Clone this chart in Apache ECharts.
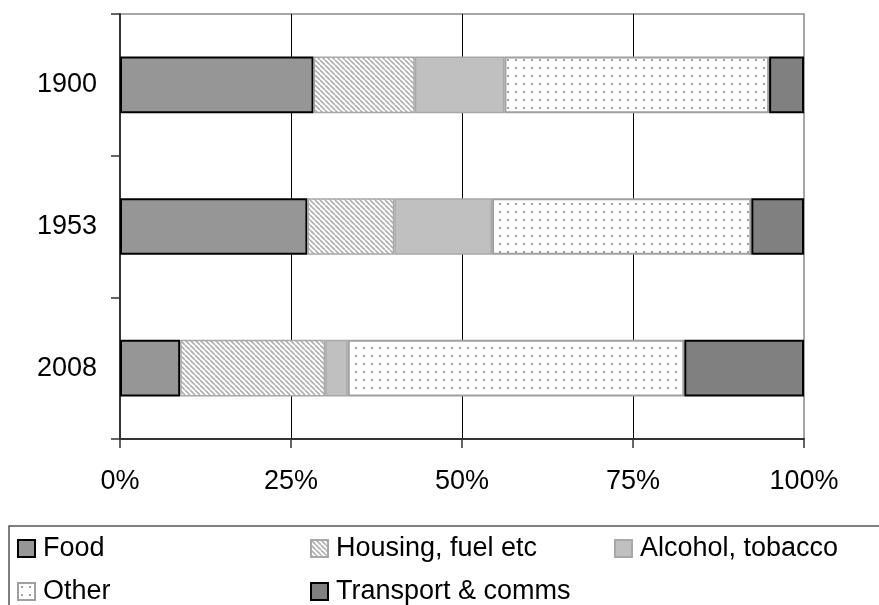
<!DOCTYPE html>
<html>
<head>
<meta charset="utf-8">
<script src="https://cdn.jsdelivr.net/npm/echarts@6/dist/echarts.min.js"></script>
<style>
  html, body { margin: 0; padding: 0; background: #fff; }
  #chart { width: 879px; height: 605px; }
</style>
</head>
<body>
<div id="chart"></div>
<script>
// Household spending shares (% of total), by year
const years = ['1900', '1953', '2008'];
const food = [28.3, 27.4, 8.8];
const housing = [14.8, 12.7, 21.2];
const alcohol = [13.1, 14.3, 3.3];
const other = [38.7, 37.9, 49.2];
const transport = [5.1, 7.7, 17.5];
const xTicks = [0, 25, 50, 75, 100];

const FONT = '"Liberation Sans", Arial, sans-serif';

// Diagonal hatch tile for housing
function hatchPattern() {
  const c = document.createElement('canvas');
  c.width = 5; c.height = 5;
  const ctx = c.getContext('2d');
  ctx.fillStyle = '#ffffff';
  ctx.fillRect(0, 0, 5, 5);
  ctx.strokeStyle = '#b0b0b0';
  ctx.lineWidth = 1.6;
  for (const k of [-5, 0, 5]) {
    ctx.beginPath();
    ctx.moveTo(k, 0);
    ctx.lineTo(k + 5, 5);
    ctx.stroke();
  }
  return c;
}

// Sparse dot tile for "other"
function dotPattern() {
  const c = document.createElement('canvas');
  c.width = 8; c.height = 8;
  const ctx = c.getContext('2d');
  ctx.fillStyle = '#ffffff';
  ctx.fillRect(0, 0, 8, 8);
  ctx.fillStyle = '#a0a0a0';
  ctx.fillRect(3, 3, 2, 2);
  return c;
}

const seriesDefs = [
  { name: 'Food', data: food, style: { color: '#969696', borderColor: '#000', borderWidth: 2 } },
  { name: 'Housing, fuel etc', data: housing, style: { color: { image: hatchPattern(), repeat: 'repeat' }, borderColor: '#a8a8a8', borderWidth: 1.5 } },
  { name: 'Alcohol, tobacco', data: alcohol, style: { color: '#c0c0c0', borderColor: '#a8a8a8', borderWidth: 1.5 } },
  { name: 'Other', data: other, style: { color: { image: dotPattern(), repeat: 'repeat' }, borderColor: '#a0a0a0', borderWidth: 2 } },
  { name: 'Transport & comms', data: transport, style: { color: '#808080', borderColor: '#000', borderWidth: 2 } }
];

// Legend slots: [left, top]
const legendPos = [[17, 535], [310, 535], [614, 535], [17, 578], [310, 578]];

const chart = echarts.init(document.getElementById('chart'), null, { renderer: 'canvas' });

chart.setOption({
  backgroundColor: '#fff',
  animation: false,
  grid: {
    left: 120, right: 75, top: 14, bottom: 166,
    show: true, borderColor: '#8a8a8a', borderWidth: 1.5,
    containLabel: false
  },
  xAxis: {
    type: 'value',
    min: xTicks[0], max: xTicks[xTicks.length - 1], interval: 25,
    axisLine: { show: true, lineStyle: { color: '#333', width: 2 } },
    axisTick: { show: true, length: 9, lineStyle: { color: '#333', width: 1.5 } },
    axisLabel: {
      margin: 29, fontSize: 27, color: '#000', fontFamily: FONT,
      formatter: v => v + '%'
    },
    splitLine: { show: true, showMinLine: false, showMaxLine: false, lineStyle: { color: '#000', width: 1 } }
  },
  yAxis: {
    type: 'category',
    data: years,
    inverse: true,
    axisLine: { show: true, lineStyle: { color: '#333', width: 2 } },
    axisTick: { show: true, length: 9, lineStyle: { color: '#333', width: 1.5 } },
    axisLabel: { margin: 23, fontSize: 27, color: '#000', fontFamily: FONT },
    splitLine: { show: false }
  },
  legend: seriesDefs.map((s, i) => ({
    data: [s.name],
    left: legendPos[i][0], top: legendPos[i][1],
    padding: 0,
    itemWidth: 17, itemHeight: 17,
    icon: 'rect',
    selectedMode: false,
    textStyle: { fontSize: 27, color: '#000', fontFamily: FONT, padding: [0, 0, 0, 3] }
  })),
  graphic: [{
    type: 'rect',
    shape: { x: 9, y: 526, width: 900, height: 120 },
    style: { fill: null, stroke: '#555', lineWidth: 1.5 },
    silent: true
  }],
  series: seriesDefs.map(s => ({
    name: s.name,
    type: 'bar',
    stack: 'total',
    barCategoryGap: '60%',
    data: s.data,
    itemStyle: s.style
  }))
});
</script>
</body>
</html>
